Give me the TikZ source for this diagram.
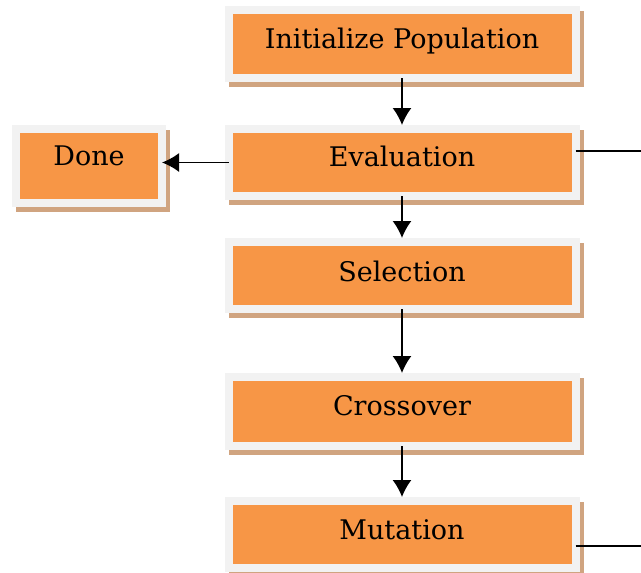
\documentclass[tikz,border=0pt]{standalone}
\usepackage{fontspec}
\setmainfont{DejaVu Serif}
\usetikzlibrary{arrows.meta,shadows,calc}
\definecolor{boxorange}{HTML}{F79646}
\definecolor{boxrim}{HTML}{F2F2F2}
\definecolor{boxshadow}{RGB}{208,164,128}
\begin{document}
\begin{tikzpicture}[x=1pt,y=-1pt,
  stagebox/.style={draw=none, fill=boxrim, outer sep=0pt,
    inner sep=0pt, minimum width=355pt, minimum height=76pt,
    text height=20pt, text depth=12pt, text=black,
    font=\fontsize{27}{30}\selectfont,
    path picture={\fill[boxorange]
      ([shift={(8pt,8pt)}]path picture bounding box.south west) rectangle
      ([shift={(-8pt,-8pt)}]path picture bounding box.north east);},
    drop shadow={shadow xshift=4pt, shadow yshift=-5pt, fill=boxshadow, opacity=1}},
  flow/.style={line width=1.6pt, -{Latex[length=17pt,width=19pt]}},
  loopline/.style={line width=1.3pt}]
\useasboundingbox (0,0) rectangle (641,573);
\node[stagebox] (init) at (402,44) {Initialize Population};
\node[stagebox, minimum height=75pt, text depth=13pt] (eval) at (402,162.5) {Evaluation};
\node[stagebox, minimum height=75pt, text depth=9pt] (sel) at (402,275.5) {Selection};
\node[stagebox, minimum height=77pt, text depth=13pt] (cross) at (402,411.5) {Crossover};
\node[stagebox, minimum height=75pt, text depth=11pt] (mut) at (402,534.5) {Mutation};
\node[stagebox, minimum width=154pt, minimum height=82pt, text depth=22pt] (done) at (89,166) {Done};
\draw[flow, shorten <=-4pt] (init.south) -- (eval.north);
\draw[flow, shorten <=-4pt] (eval.south) -- (sel.north);
\draw[flow, shorten <=-4pt] (sel.south) -- (cross.north);
\draw[flow, shorten <=-4pt] (cross.south) -- (mut.north);
\draw[flow, shorten <=-4pt, shorten >=-4pt] (eval.west) -- (eval.west -| done.east);
\coordinate (evalout) at (641,151);
\coordinate (mutout) at (641,546);
\draw[loopline] (evalout -| eval.east) ++(-4,0) -- (evalout);
\draw[loopline] (mutout -| mut.east) ++(-4,0) -- (mutout);
\end{tikzpicture}
\end{document}
